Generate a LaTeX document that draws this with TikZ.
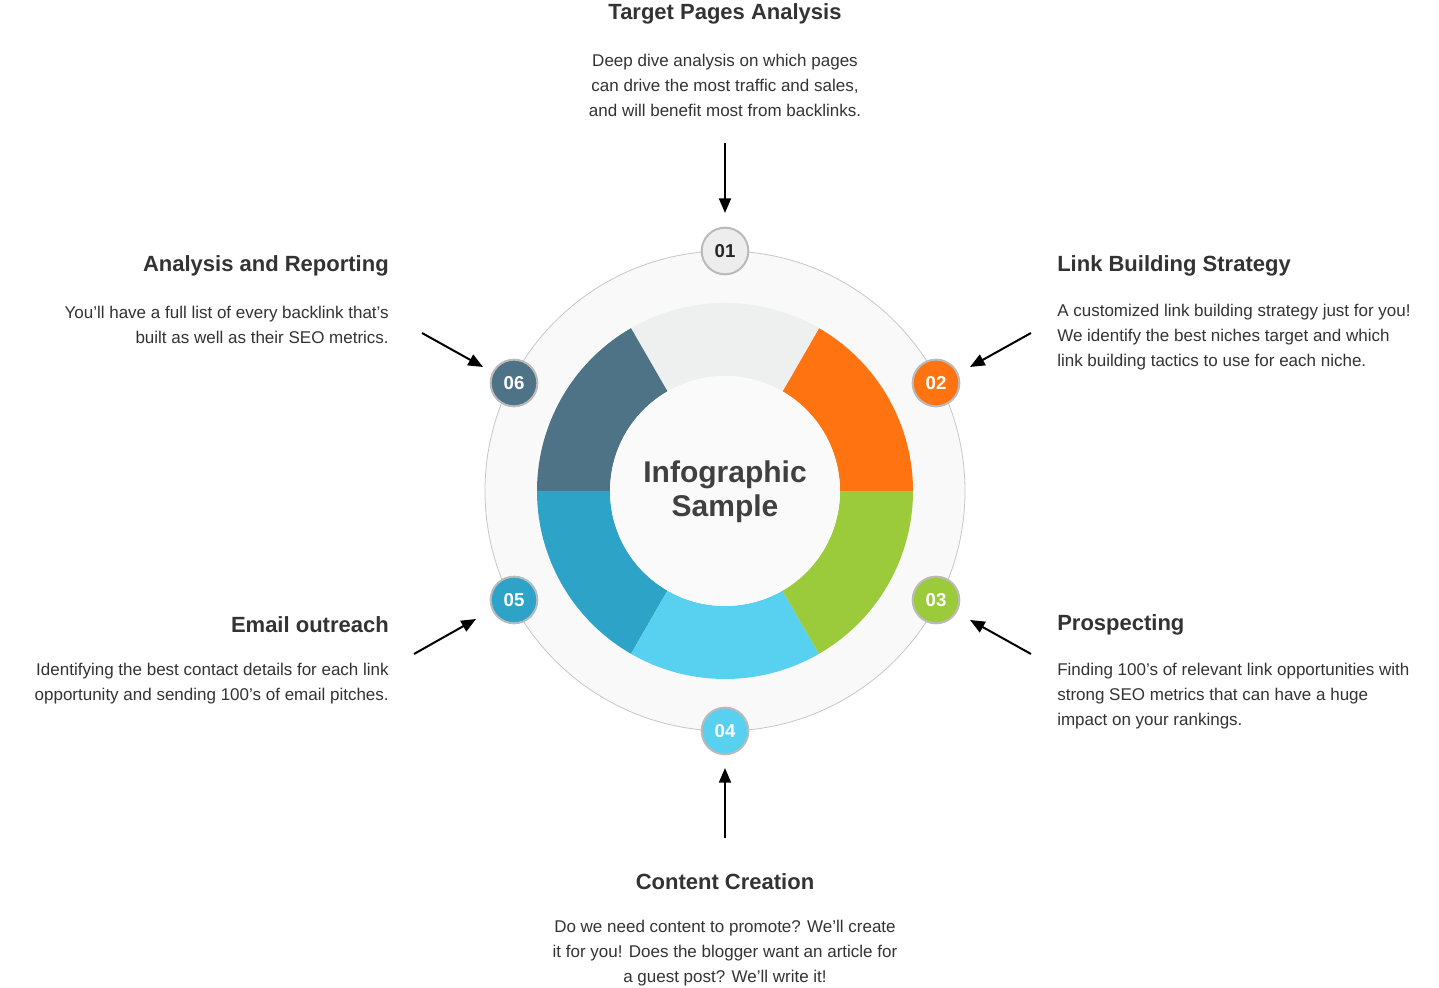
\documentclass[tikz,border=0pt]{standalone}
\usepackage{fontspec}
\setmainfont{Liberation Sans}
\usetikzlibrary{arrows.meta}
\definecolor{txt}{HTML}{333333}
\definecolor{sgray}{HTML}{EEF0EF}
\definecolor{sorange}{HTML}{FF7411}
\definecolor{sgreen}{HTML}{9BCB3B}
\definecolor{slblue}{HTML}{58D0EF}
\definecolor{sblue}{HTML}{2EA3C8}
\definecolor{sslate}{HTML}{4E7387}
\tikzset{
 title/.style={font=\fontsize{16.5}{20}\selectfont\bfseries, text=txt, inner sep=0pt},
 body/.style={font=\fontsize{12.75}{18.75}\selectfont, text=txt, inner sep=0pt},
 badge/.style={circle, minimum size=35pt, inner sep=0pt, draw=black!27, line width=1.5pt, font=\fontsize{14}{16}\selectfont\bfseries, text=white},
 arr/.style={line width=1.5pt, -{Triangle[length=11pt,width=9pt]}},
}
\newcommand{\seg}[3]{\fill[#3] (#1:141pt) arc[start angle=#1, end angle=#2, radius=141pt] -- (#2:86.25pt) arc[start angle=#2, end angle=#1, radius=86.25pt] -- cycle;}
\begin{document}
\begin{tikzpicture}[x=0.75pt,y=0.75pt]
\useasboundingbox[fill=white] (0,0) rectangle (1439,988);
\begin{scope}[shift={(725,497)}]
\fill[black!2.5, draw=black!22, line width=0.6pt] (0,0) circle[radius=180pt];
\seg{0}{60}{sorange}
\seg{60}{120}{sgray}
\seg{120}{180}{sslate}
\seg{180}{240}{sblue}
\seg{240}{300}{slblue}
\seg{300}{360}{sgreen}
\fill[black!2] (0,0) circle[radius=86.25pt];
\end{scope}
\node[font=\fontsize{22.5}{25.5}\selectfont\bfseries, text=black!75, align=center] (c) at (725,496) {Infographic\\Sample};
\node[badge, fill=black!7, text=black!85] (b1) at (725,737) {01};
\node[badge, fill=sorange] (b2) at (936,605) {02};
\node[badge, fill=sgreen] (b3) at (936,388) {03};
\node[badge, fill=slblue] (b4) at (725,257) {04};
\node[badge, fill=sblue] (b5) at (514,388) {05};
\node[badge, fill=sslate] (b6) at (514,605) {06};
\coordinate (a1) at (725,845); \coordinate (a2) at (1031,655); \coordinate (a3) at (1031,334);
\coordinate (a4) at (725,150); \coordinate (a5) at (414,334); \coordinate (a6) at (422,655);
\draw[arr] (a1) -- (725,775);
\draw[arr] (a2) -- (970,621);
\draw[arr] (a3) -- (970,368);
\draw[arr] (a4) -- (725,220);
\draw[arr] (a5) -- (476,369);
\draw[arr] (a6) -- (483,621);
\node[title] (t1) at (725,974) {Target Pages Analysis};
\node[body, align=center] (d1) at (725,903) {Deep dive analysis on which pages\\can drive the most traffic and sales,\\and will benefit most from backlinks.};
\node[title, anchor=west] (t2) at (1057,722) {Link Building Strategy};
\node[body, align=left, anchor=west] (d2) at (1057,651) {A customized link building strategy just for you!\\We identify the best niches target and which\\link building tactics to use for each niche.};
\node[title, anchor=west] (t3) at (1057,363) {Prospecting};
\node[body, align=left, anchor=west] (d3) at (1057,292) {Finding 100's of relevant link opportunities with\\strong SEO metrics that can have a huge\\impact on your rankings.};
\node[title] (t4) at (725,106) {Content Creation};
\node[body, align=center] (d4) at (725,35) {Do we need content to promote? We'll create\\it for you! Does the blogger want an article for\\a guest post? We'll write it!};
\node[title, anchor=east] (t5) at (389,363) {Email outreach};
\node[body, align=right, anchor=east] (d5) at (389,304.5) {Identifying the best contact details for each link\\opportunity and sending 100's of email pitches.};
\node[title, anchor=east] (t6) at (389,722) {Analysis and Reporting};
\node[body, align=right, anchor=east] (d6) at (389,663.5) {You'll have a full list of every backlink that's\\built as well as their SEO metrics.};
\end{tikzpicture}
\end{document}
